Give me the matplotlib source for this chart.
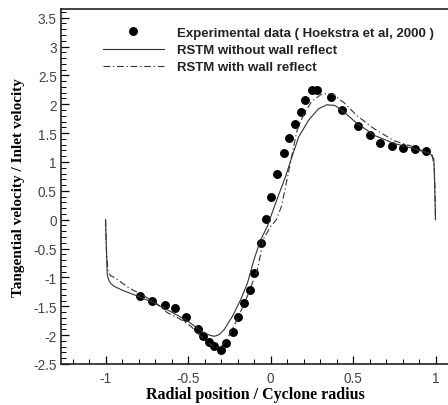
import matplotlib
matplotlib.use("Agg")
import matplotlib.pyplot as plt
from matplotlib.ticker import MultipleLocator

# Experimental data (Hoekstra et al, 2000)
exp_x = [-0.79, -0.72, -0.64, -0.58, -0.51, -0.44, -0.41, -0.37, -0.34, -0.30,
         -0.27, -0.23, -0.20, -0.16, -0.125, -0.10, -0.06, -0.028, 0.003, 0.04,
         0.081, 0.111, 0.148, 0.184, 0.212, 0.25, 0.283, 0.364, 0.432, 0.53,
         0.60, 0.665, 0.735, 0.805, 0.875, 0.94]
exp_y = [-1.32, -1.40, -1.47, -1.53, -1.68, -1.89, -2.02, -2.12, -2.19, -2.25,
         -2.13, -1.95, -1.69, -1.44, -1.22, -0.93, -0.41, 0.02, 0.39, 0.79,
         1.15, 1.42, 1.66, 1.86, 2.08, 2.24, 2.25, 2.12, 1.90, 1.62,
         1.46, 1.32, 1.28, 1.25, 1.22, 1.19]

# RSTM without wall reflect
rstm_x = [-1.0, -0.995, -0.99, -0.98, -0.97, -0.95, -0.9, -0.8, -0.7, -0.6,
          -0.5, -0.42, -0.37, -0.34, -0.31, -0.28, -0.23, -0.18, -0.14, -0.10,
          -0.06, -0.02, 0.03, 0.09, 0.13, 0.17, 0.23, 0.29, 0.34, 0.39,
          0.43, 0.52, 0.63, 0.75, 0.87, 0.97, 0.99, 0.995, 1.0]
rstm_y = [0.0, -0.5, -0.95, -1.05, -1.10, -1.15, -1.22, -1.33, -1.45, -1.60,
          -1.76, -1.93, -2.0, -2.02, -1.99, -1.90, -1.67, -1.38, -1.10, -0.69,
          -0.35, -0.12, 0.28, 0.74, 1.09, 1.43, 1.72, 1.92, 1.99, 1.98,
          1.90, 1.68, 1.46, 1.32, 1.23, 1.14, 1.05, 0.6, 0.0]

# RSTM with wall reflect
wall_x = [-1.0, -0.995, -0.985, -0.97, -0.94, -0.86, -0.80, -0.70, -0.626, -0.55,
          -0.485, -0.424, -0.364, -0.323, -0.30, -0.263, -0.202, -0.141, -0.08, -0.04,
          0.0, 0.035, 0.065, 0.09, 0.131, 0.161, 0.202, 0.252, 0.313, 0.374,
          0.444, 0.525, 0.626, 0.747, 0.869, 0.98, 0.993, 0.997, 1.0]
wall_y = [0.0, -0.5, -0.90, -0.97, -1.01, -1.18, -1.27, -1.43, -1.61, -1.72,
          -1.84, -2.02, -2.16, -2.22, -2.20, -2.07, -1.73, -1.33, -0.87, -0.32,
          -0.12, 0.0, 0.22, 0.55, 1.14, 1.55, 1.83, 2.06, 2.18, 2.18,
          2.03, 1.80, 1.58, 1.37, 1.26, 1.12, 0.9, 0.5, 0.0]

labels = ["Experimental data ( Hoekstra et al, 2000 )",
          "RSTM without wall reflect",
          "RSTM with wall reflect"]
xticks = [-1, -0.5, 0, 0.5, 1]
xticklabels = ["-1", "-0.5", "0", "0.5", "1"]
yticks = [-2.5, -2, -1.5, -1, -0.5, 0, 0.5, 1, 1.5, 2, 2.5, 3, 3.5]
yticklabels = ["-2.5", "-2", "-1.5", "-1", "-0.5", "0", "0.5", "1", "1.5", "2", "2.5", "3", "3.5"]

fig = plt.figure(figsize=(4.48, 4.06), dpi=100)
ax = fig.add_axes([61/448, 41/406, 391/448, 355/406])

ax.plot(exp_x, exp_y, 'o', color='black', markersize=5.4, linestyle='none', label=labels[0])
ax.plot(rstm_x, rstm_y, '-', color='#333333', lw=0.8, label=labels[1])
ax.plot(wall_x, wall_y, color='#333333', lw=0.8, linestyle=(0, (6, 2.5, 1.2, 2.5)), label=labels[2])

ax.set_xlim(-1.27, 1.1)
ax.set_ylim(-2.5, 3.65)
ax.set_xticks(xticks)
ax.set_xticklabels(xticklabels)
ax.set_yticks(yticks)
ax.set_yticklabels(yticklabels)
ax.xaxis.set_minor_locator(MultipleLocator(0.1))
ax.yaxis.set_minor_locator(MultipleLocator(0.1))
ax.tick_params(which='both', direction='in', top=False, right=False,
               labelcolor='#444444', labelsize=9.8)
ax.tick_params(which='major', length=6, width=0.9)
ax.tick_params(which='minor', length=3.5, width=0.7)
ax.tick_params(axis='x', pad=5)
ax.tick_params(axis='y', pad=3)
for lab in ax.get_xticklabels() + ax.get_yticklabels():
    lab.set_family('Liberation Sans')
for sp in ax.spines.values():
    sp.set_linewidth(1.2)
    sp.set_color('#222222')

ax.set_xlabel("Radial position / Cyclone radius", family='Liberation Serif',
              fontweight='bold', fontsize=11.5)
ax.set_ylabel("Tangential velocity / Inlet velocity", family='Liberation Serif',
              fontweight='bold', fontsize=11)
ax.xaxis.set_label_coords(0.497, -0.062)
ax.yaxis.set_label_coords(-0.092, 0.5)

leg = ax.legend(loc='upper left', bbox_to_anchor=(0.107, 0.95), frameon=False,
                prop={'family': 'Liberation Sans', 'weight': 'bold', 'size': 9.5},
                handlelength=4.6, handletextpad=1.0, labelspacing=0.38,
                borderpad=0, borderaxespad=0, numpoints=1)
for t in leg.get_texts():
    t.set_color('#222222')

fig.savefig("out.png", dpi=100)
